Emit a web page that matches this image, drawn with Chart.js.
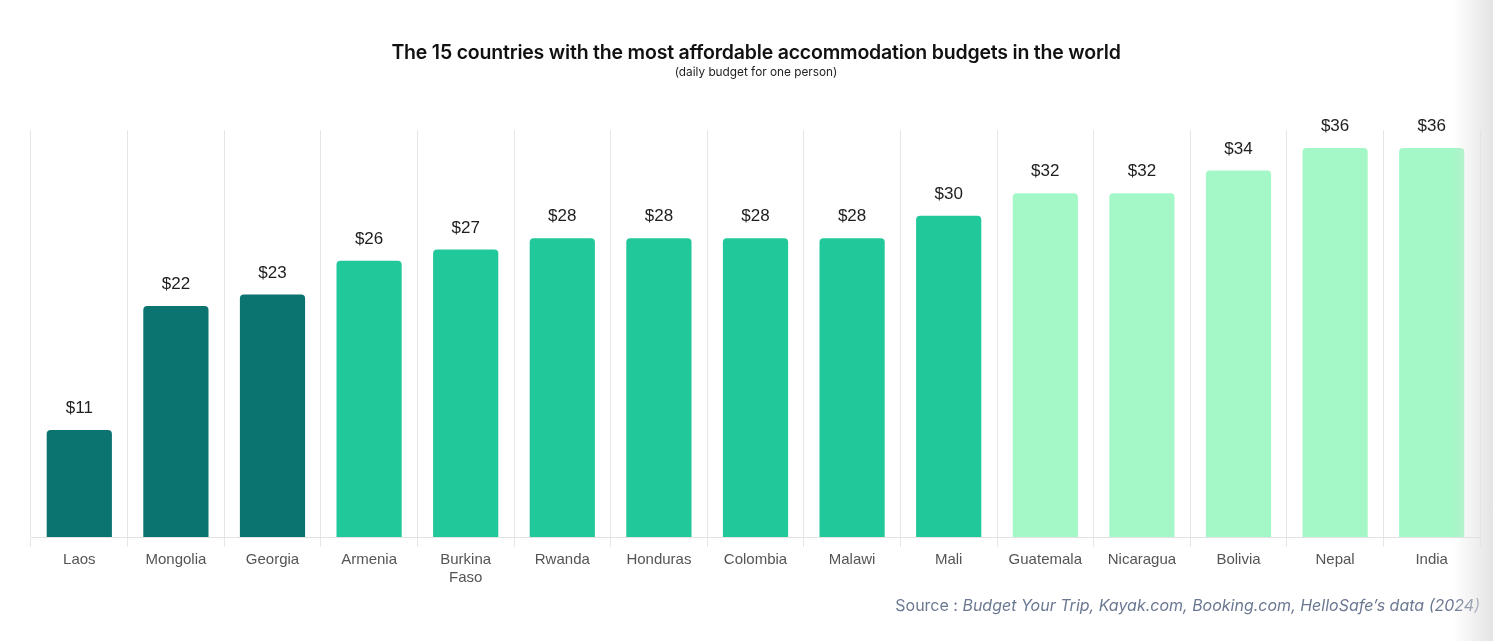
<!DOCTYPE html>
<html>
<head>
<meta charset="utf-8">
<script src="https://cdn.jsdelivr.net/npm/chart.js@4"></script>
<style>
  html, body { margin: 0; padding: 0; background: #fff; }
  #wrap { position: relative; width: 1493px; height: 641px; overflow: hidden; }
  #chart { position: absolute; left: 0; top: 0; }
  #title { position: absolute; left: 0; width: 1512px; top: 40px; text-align: center;
    font-family: Inter, "Liberation Sans", sans-serif; font-weight: 600; font-size: 19.5px; color: #111; letter-spacing: -0.2px; }
  #subtitle { position: absolute; left: 0; width: 1512px; top: 65px; text-align: center;
    font-family: Inter, "Liberation Sans", sans-serif; font-size: 11.8px; color: #222; }
  #source { position: absolute; right: 13px; top: 595px; font-family: Inter, "Liberation Sans", sans-serif;
    font-size: 16px; color: #6b7892; }
  #source i { font-style: italic; }
  #shade { position: absolute; right: 0; top: 0; width: 40px; height: 641px;
    background: linear-gradient(to right, rgba(230,230,230,0), rgba(225,225,225,0.9)); pointer-events: none; }
</style>
</head>
<body>
<div id="wrap">
  <canvas id="chart" width="1493" height="641"></canvas>
  <div id="title">The 15 countries with the most affordable accommodation budgets in the world</div>
  <div id="subtitle">(daily budget for one person)</div>
  <div id="source">Source : <i>Budget Your Trip, Kayak.com, Booking.com, HelloSafe’s data (2024)</i></div>
  <div id="shade"></div>
</div>
<script>
const countries = ['Laos', 'Mongolia', 'Georgia', 'Armenia', ['Burkina', 'Faso'], 'Rwanda', 'Honduras',
  'Colombia', 'Malawi', 'Mali', 'Guatemala', 'Nicaragua', 'Bolivia', 'Nepal', 'India'];
const dailyBudget = [11, 22, 23, 26, 27, 28, 28, 28, 28, 30, 32, 32, 34, 36, 36];
const tierColors = ['#0b7370', '#0b7370', '#0b7370', '#21c89a', '#21c89a', '#21c89a', '#21c89a',
  '#21c89a', '#21c89a', '#21c89a', '#a4f7c7', '#a4f7c7', '#a4f7c7', '#a4f7c7', '#a4f7c7'];

const valueLabels = {
  id: 'valueLabels',
  afterDatasetsDraw(chart) {
    const ctx = chart.ctx;
    const meta = chart.getDatasetMeta(0);
    ctx.save();
    ctx.font = '17px "Liberation Sans", Arial, sans-serif';
    ctx.fillStyle = '#1e1e1e';
    ctx.textAlign = 'center';
    ctx.textBaseline = 'alphabetic';
    meta.data.forEach((bar, i) => {
      ctx.fillText('$' + dailyBudget[i], bar.x, bar.y - 17);
    });
    ctx.restore();
  }
};

new Chart(document.getElementById('chart'), {
  type: 'bar',
  data: {
    labels: countries,
    datasets: [{
      data: dailyBudget,
      backgroundColor: tierColors,
      borderRadius: { topLeft: 4, topRight: 4 },
      borderSkipped: 'bottom',
      categoryPercentage: 1,
      barPercentage: 0.675
    }]
  },
  options: {
    responsive: false,
    animation: false,
    layout: { padding: { top: 130, left: 31, right: 13, bottom: 50 } },
    plugins: { legend: { display: false }, tooltip: { enabled: false }, title: { display: false } },
    scales: {
      x: {
        grid: { offset: true, color: '#e6e6e6', lineWidth: 1, drawTicks: true, tickLength: 10 },
        border: { display: true, color: '#e2e2e2' },
        ticks: { color: '#555', font: { family: '"Liberation Sans", Arial, sans-serif', size: 15 }, padding: 4, maxRotation: 0, autoSkip: false }
      },
      y: {
        display: false,
        min: 1.5,
        max: 37.6
      }
    }
  },
  plugins: [valueLabels]
});
</script>
</body>
</html>
